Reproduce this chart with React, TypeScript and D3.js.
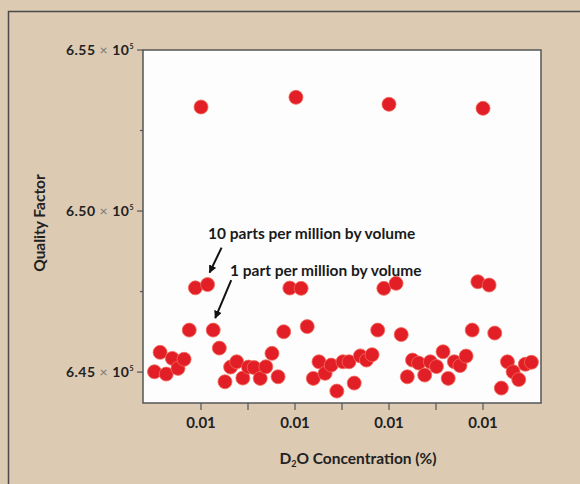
import React, { useEffect, useRef } from 'react';
import * as d3 from 'd3';

// D2O concentration (%)
const concentration = [
  0.00501, 0.00513, 0.00526, 0.00539, 0.00551, 0.00564, 0.00575, 0.00588, 0.006, 0.00614,
  0.00626, 0.00639, 0.00651, 0.00663, 0.00676, 0.00689, 0.00701, 0.00713, 0.00726, 0.00738,
  0.00751, 0.00764, 0.00776, 0.00789, 0.00802, 0.00813, 0.00826, 0.00839, 0.00851, 0.00864,
  0.00877, 0.00889, 0.00902, 0.00915, 0.00926, 0.00939, 0.00952, 0.00964, 0.00976, 0.00989,
  0.01, 0.01015, 0.01026, 0.01039, 0.0105, 0.01063, 0.01076, 0.01088, 0.01101, 0.01115,
  0.01126, 0.01139, 0.01151, 0.01164, 0.01177, 0.01189, 0.012, 0.01213, 0.01225, 0.01239,
  0.01252, 0.01264, 0.01276, 0.0129, 0.01303,
];

const quality = [
  645010, 645612, 644938, 645425, 645115, 645398, 646304, 647615, 653230, 647717,
  646304, 645745, 644699, 645155, 645320, 644814, 645155, 645140, 644804, 645165,
  645581, 644854, 646252, 647609, 653531, 647599, 646413, 644804, 645320, 644960,
  645217, 644410, 645320, 645320, 644658, 645503, 645373, 645540, 646304, 647599,
  653314, 647755, 646165, 644854, 645373, 645280, 644907, 645320, 645171, 645630,
  644804, 645320, 645202, 645497, 646304, 647804, 653189, 647702, 646211, 644503,
  645320, 645009, 644767, 645242, 645304,
];

const xTicks = [0.006, 0.008, 0.01, 0.012];
const xMinorTicks = [0.007, 0.009, 0.011];
const yTicks = [645000, 650000, 655000];
const yTickLabels = ['6.45', '6.50', '6.55'];
const yMinorTicks = [647500, 652500];

const annotations = [
  { text: '10 parts per million by volume', point: 9 },
  { text: '1 part per million by volume', point: 10 },
];

const W = 580;
const H = 484;
const FONT = 'Lato, "DejaVu Sans", sans-serif';

export default function App() {
  const ref = useRef<SVGSVGElement>(null);

  useEffect(() => {
    const svg = d3.select(ref.current);
    svg.selectAll('*').remove();

    const margin = { top: 50, right: 39, bottom: 81, left: 143 };
    const width = W - margin.left - margin.right;
    const height = H - margin.top - margin.bottom;

    const x = d3.scaleLinear().domain([0.004766, 0.013234]).range([0, width]);
    const y = d3.scaleLinear().domain([644040, 655000]).range([height, 0]);

    const defs = svg.append('defs');
    defs
      .append('marker')
      .attr('id', 'arrow')
      .attr('viewBox', '0 0 10 10')
      .attr('refX', 9)
      .attr('refY', 5)
      .attr('markerWidth', 4)
      .attr('markerHeight', 4)
      .attr('orient', 'auto')
      .append('path')
      .attr('d', 'M0,0 L10,5 L0,10 z')
      .attr('fill', '#111');

    // background + frame
    svg.append('rect').attr('width', W).attr('height', H).attr('fill', '#dccab2');
    svg
      .append('rect')
      .attr('x', 8.5)
      .attr('y', 11.5)
      .attr('width', W + 20)
      .attr('height', H + 20)
      .attr('fill', 'none')
      .attr('stroke', '#4a4a4a')
      .attr('stroke-width', 1.5);

    const g = svg
      .append('g')
      .attr('transform', 'translate(' + margin.left + ',' + margin.top + ')');

    g.append('rect')
      .attr('width', width)
      .attr('height', height)
      .attr('fill', '#fdfdfd')
      .attr('stroke', '#555')
      .attr('stroke-width', 1.5);

    // x ticks
    g.selectAll('.xtick')
      .data(xTicks.concat(xMinorTicks))
      .enter()
      .append('line')
      .attr('x1', (d) => x(d))
      .attr('x2', (d) => x(d))
      .attr('y1', height)
      .attr('y2', height + 7)
      .attr('stroke', '#555')
      .attr('stroke-width', 1.2);

    g.selectAll('.xlabel')
      .data(xTicks)
      .enter()
      .append('text')
      .attr('x', (d) => x(d))
      .attr('y', height + 25)
      .attr('text-anchor', 'middle')
      .attr('font-family', FONT)
      .attr('font-weight', 700)
      .attr('font-size', 15)
      .attr('fill', '#222')
      .text((d) => d3.format('.2f')(d));

    // y ticks
    g.selectAll('.ytick')
      .data(yTicks)
      .enter()
      .append('line')
      .attr('x1', -6)
      .attr('x2', 0)
      .attr('y1', (d) => y(d))
      .attr('y2', (d) => y(d))
      .attr('stroke', '#555')
      .attr('stroke-width', 1.2);

    g.selectAll('.yminor')
      .data(yMinorTicks)
      .enter()
      .append('line')
      .attr('x1', -3)
      .attr('x2', 0)
      .attr('y1', (d) => y(d))
      .attr('y2', (d) => y(d))
      .attr('stroke', '#555')
      .attr('stroke-width', 1.2);

    const yl = g
      .selectAll('.ylabel')
      .data(yTicks)
      .enter()
      .append('text')
      .attr('x', -9)
      .attr('y', (d) => y(d) + 5)
      .attr('text-anchor', 'end')
      .attr('font-family', FONT)
      .attr('font-weight', 700)
      .attr('font-size', 14)
      .attr('letter-spacing', 0.5)
      .attr('fill', '#222');
    yl.append('tspan').text((d, i) => yTickLabels[i] + ' ');
    yl.append('tspan').attr('fill', '#777').attr('font-weight', 400).text('× ');
    yl.append('tspan').text('10');
    yl.append('tspan').attr('dy', -6).attr('font-size', 7).text('5');

    // axis titles
    const xt = svg
      .append('text')
      .attr('x', 358)
      .attr('y', 464)
      .attr('text-anchor', 'middle')
      .attr('font-family', FONT)
      .attr('font-weight', 700)
      .attr('font-size', 15.5)
      .attr('fill', '#222');
    xt.append('tspan').text('D');
    xt.append('tspan').attr('font-size', 9).attr('dy', 3).text('2');
    xt.append('tspan').attr('dy', -3).text('O Concentration (%)');

    svg
      .append('text')
      .attr('transform', 'translate(45,223) rotate(-90)')
      .attr('text-anchor', 'middle')
      .attr('font-family', FONT)
      .attr('font-weight', 700)
      .attr('font-size', 15.5)
      .attr('fill', '#222')
      .text('Quality Factor');

    // points
    const data = concentration.map((c, i) => ({ c, q: quality[i] }));
    g.selectAll('.dot')
      .data(data)
      .enter()
      .append('circle')
      .attr('cx', (d) => x(d.c))
      .attr('cy', (d) => y(d.q))
      .attr('r', 7)
      .attr('fill', '#e21f26')
      .attr('stroke', '#f06a5c')
      .attr('stroke-width', 0.8);

    // annotations
    annotations.forEach((a, i) => {
      const px = x(concentration[a.point]);
      const py = y(quality[a.point]);
      const tipX = px + 2;
      const tipY = py - 12;
      const startX = tipX + (i === 0 ? 12 : 16);
      const startY = tipY - (i === 0 ? 25 : 38);
      g.append('line')
        .attr('x1', startX)
        .attr('y1', startY)
        .attr('x2', tipX)
        .attr('y2', tipY)
        .attr('stroke', '#111')
        .attr('stroke-width', 2)
        .attr('marker-end', 'url(#arrow)');
      g.append('text')
        .attr('x', i === 0 ? 65 : 87)
        .attr('y', i === 0 ? 189 : 226)
        .attr('font-family', FONT)
        .attr('font-weight', 700)
        .attr('font-size', 15.5)
        .attr('fill', '#1a1a1a')
        .text(a.text);
    });
  }, []);

  return (
    <svg
      ref={ref}
      width={W}
      height={H}
      viewBox={'0 0 ' + W + ' ' + H}
      style={{ position: 'absolute', left: 0, top: 0 }}
    />
  );
}
